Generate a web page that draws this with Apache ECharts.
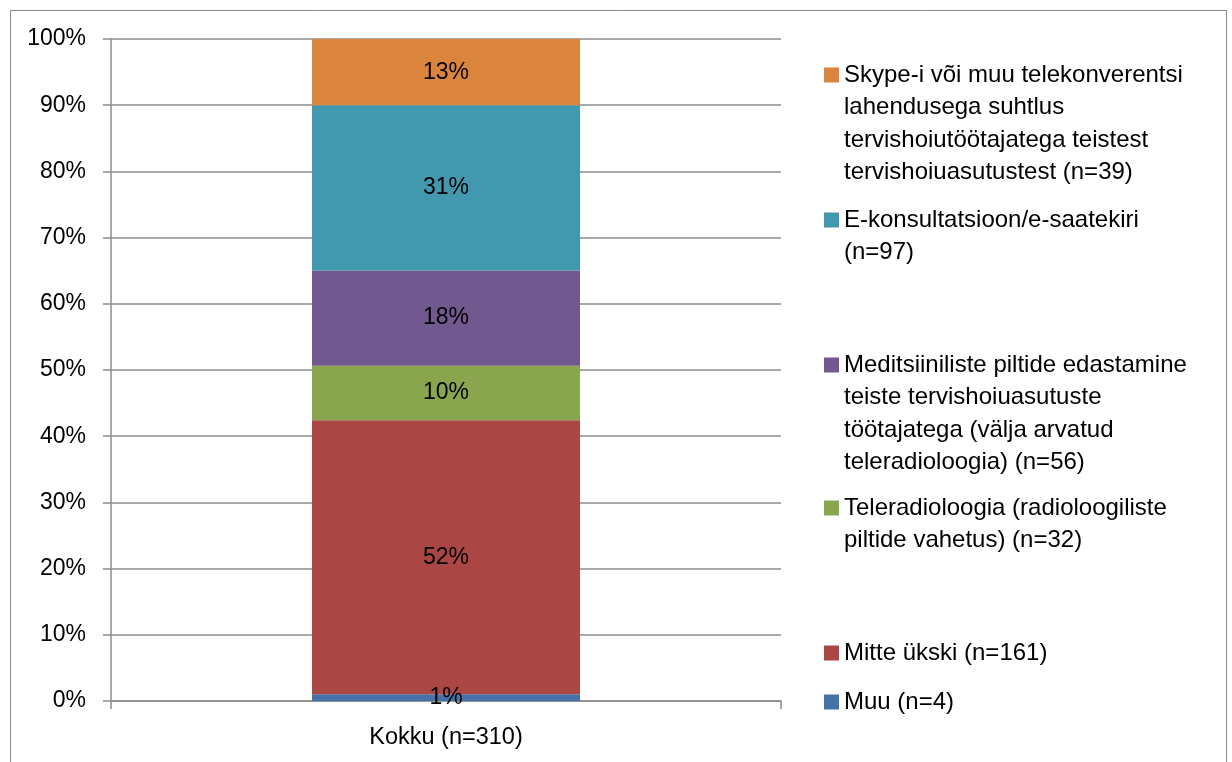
<!DOCTYPE html>
<html>
<head>
<meta charset="utf-8">
<script src="https://cdn.jsdelivr.net/npm/echarts@6/dist/echarts.min.js"></script>
<style>
  html, body { margin: 0; padding: 0; background: #fff; }
  #chart { width: 1232px; height: 762px; }
</style>
</head>
<body>
<div id="chart"></div>
<script>
// single category, 100% stacked column
const categories = ['Kokku (n=310)'];
const respondents = 310;

// series from bottom to top of the stack
const seriesNames = [
  'Muu',
  'Mitte ükski',
  'Teleradioloogia',
  'Meditsiiniliste piltide',
  'E-konsultatsioon',
  'Skype'
];
const counts = [4, 161, 32, 56, 97, 39];

// legend text, already wrapped like in the picture
const legendLines = [
  ['Muu (n=4)'],
  ['Mitte ükski (n=161)'],
  ['Teleradioloogia (radioloogiliste', 'piltide vahetus) (n=32)'],
  ['Meditsiiniliste piltide edastamine', 'teiste tervishoiuasutuste', 'töötajatega (välja arvatud', 'teleradioloogia) (n=56)'],
  ['E-konsultatsioon/e-saatekiri', '(n=97)'],
  ['Skype-i või muu telekonverentsi', 'lahendusega suhtlus', 'tervishoiutöötajatega teistest', 'tervishoiuasutustest (n=39)']
];

const yTicks = { min: 0, max: 100, interval: 10 };

const colors = ['#4572A7', '#AA4643', '#89A54E', '#71588F', '#4198AF', '#DB843D'];

const chart = echarts.init(document.getElementById('chart'));

const FONT = 'Liberation Sans';
const total = counts.reduce((a, b) => a + b, 0);
const LH = 32.5;
// y of the first text line of each legend entry (Excel spreads them out)
const legendFirstLine = [702, 653, 508, 365, 220, 75];

const series = seriesNames.map((name, i) => ({
  name: name,
  type: 'bar',
  stack: 'all',
  barWidth: '40%',
  data: [counts[i] / total * 100],
  itemStyle: { color: colors[i] },
  label: {
    show: true,
    position: 'inside',
    color: '#000',
    fontFamily: FONT,
    fontSize: 23,
    formatter: () => Math.round(counts[i] / respondents * 100) + '%'
  },
  emphasis: { disabled: true }
}));

// legend text is centred on the icon, so blank lines on top push
// the first real line level with the square
const legends = seriesNames.map((name, i) => {
  const n = legendLines[i].length;
  return {
    data: [name],
    orient: 'vertical',
    left: 824,
    top: legendFirstLine[i] - (2 * n - 1) * LH / 2,
    padding: 0,
    itemWidth: 15,
    itemHeight: 15,
    icon: 'rect',
    selectedMode: false,
    formatter: () => '\n'.repeat(n - 1) + legendLines[i].join('\n'),
    textStyle: {
      fontFamily: FONT,
      fontSize: 24,
      color: '#000',
      lineHeight: LH
    }
  };
});

chart.setOption({
  animation: false,
  backgroundColor: '#fff',
  graphic: [{
    type: 'rect',
    shape: { x: 10.5, y: 10.5, width: 1216, height: 800 },
    style: { fill: 'none', stroke: '#888', lineWidth: 1 },
    silent: true
  }],
  legend: legends,
  grid: { left: 111, right: 451, top: 39, bottom: 61 },
  xAxis: {
    type: 'category',
    data: categories,
    axisLine: { show: true, lineStyle: { color: '#8c8c8c', width: 1.5 } },
    axisTick: { show: true, length: 8, alignWithLabel: false, lineStyle: { color: '#8c8c8c', width: 1.5 } },
    axisLabel: { color: '#000', fontFamily: FONT, fontSize: 23.5, margin: 25 }
  },
  yAxis: {
    type: 'value',
    min: yTicks.min,
    max: yTicks.max,
    interval: yTicks.interval,
    axisLine: { show: true, lineStyle: { color: '#8c8c8c', width: 1.5 } },
    axisTick: { show: true, length: 8, lineStyle: { color: '#8c8c8c', width: 1.5 } },
    splitLine: { show: true, lineStyle: { color: '#8c8c8c', width: 1.5 } },
    axisLabel: { color: '#000', fontFamily: FONT, fontSize: 23, margin: 25, formatter: '{value}%' }
  },
  series: series
});
</script>
</body>
</html>
